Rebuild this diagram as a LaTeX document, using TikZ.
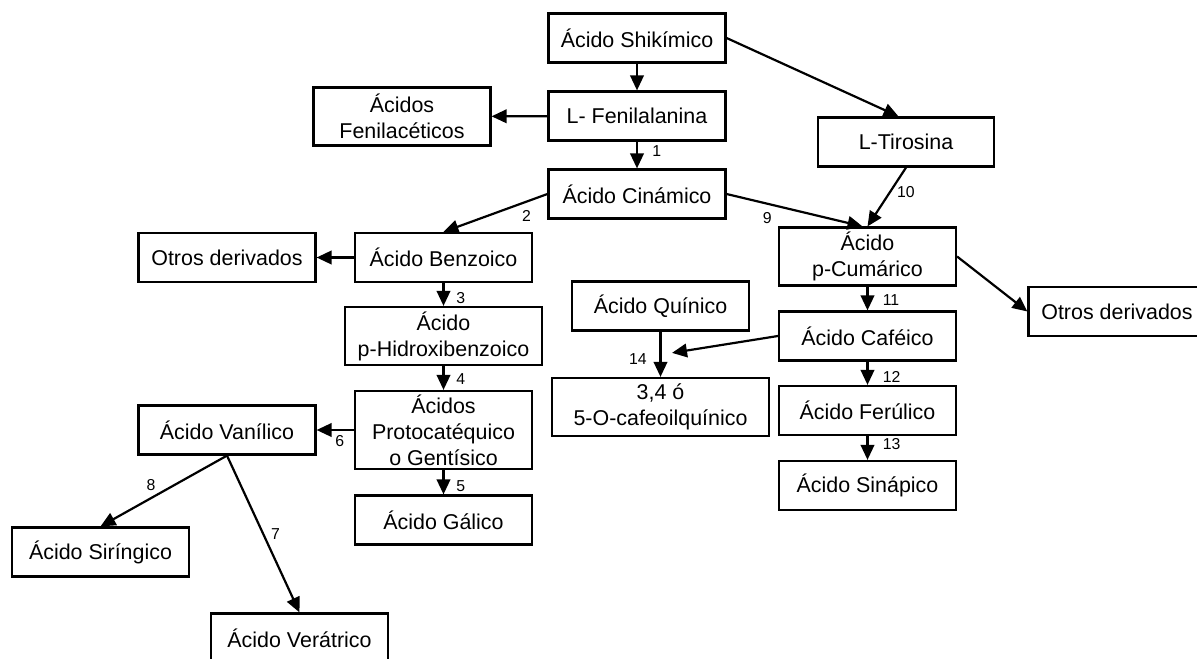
\documentclass[tikz,border=0pt]{standalone}
\usepackage{fontspec}
\setmainfont{Liberation Sans}
\usetikzlibrary{
    positioning,
    arrows.meta,
    calc
}

\begin{document}
\begin{tikzpicture}[x=0.02cm, y=-0.02cm,
    box/.style={draw, line width=1.25pt, minimum width=3.54cm, minimum height=0.98cm,
        align=center, inner sep=2pt, font=\fontsize{12.2}{14.8}\selectfont},
    twoline/.style={minimum height=1.16cm},
    arr/.style={-{Triangle[length=0.3cm, width=0.27cm]}, line width=1.25pt},
    num/.style={font=\fontsize{9}{10}\selectfont, inner sep=1pt}]
            \useasboundingbox (0,0) rectangle (1197,659);
            % boxes
            \node[box] (shik) at (637,38) {Ácido Shikímico};
            \node[box] (fenil) at (637,116) {L- Fenilalanina};
            \node[box, twoline] (fenac) at (402,116.5) {Ácidos\\Fenilacéticos};
            \node[box] (cinam) at (637,194) {Ácido Cinámico};
            \node[box, minimum width=3.52cm] (tiros) at (906,142) {L-Tirosina};
            \node[box, twoline] (cumar) at (867.5,256.5) {Ácido\\p-Cumárico};
            \node[box] (otrosR) at (1117,311.5) {Otros derivados};
            \node[box] (otrosL) at (227,257.5) {Otros derivados};
            \node[box] (benzo) at (443.5,257.5) {Ácido Benzoico};
            \node[box, twoline, minimum width=3.94cm] (phidr) at (443.5,336) {Ácido\\p-Hidroxibenzoico};
            \node[box, minimum height=1.56cm] (proto) at (443.5,430) {Ácidos\\Protocatéquico\\o Gentísico};
            \node[box] (galic) at (443.5,520) {Ácido Gálico};
            \node[box] (vanil) at (227,430) {Ácido Vanílico};
            \node[box] (sirin) at (100.5,552) {Ácido Siríngico};
            \node[box] (verat) at (299.5,638) {Ácido Verátrico};
            \node[box] (quin) at (660.5,306) {Ácido Quínico};
            \node[box, twoline, minimum width=4.34cm] (cqa) at (660.5,407) {3,4 ó\\5-O-cafeoilquínico};
            \node[box] (cafe) at (867.5,336) {Ácido Caféico};
            \node[box] (ferul) at (867.5,410.5) {Ácido Ferúlico};
            \node[box] (sinap) at (867.5,485.5) {Ácido Sinápico};
            % arrows
            \draw[arr] (shik)--(fenil);
            \draw[arr] (fenil)--(fenac);
            \draw[arr] (fenil)--(cinam) node[num, pos=0.35, right=0.25cm] {1};
            \draw[arr] (shik.east)--([xshift=-0.15cm]tiros.north);
            \draw[arr] (cinam.west)--(benzo.north) node[num, pos=0.2, below=0.12cm] {2};
            \draw[arr] (cinam.east)--([xshift=-0.1cm]cumar.north) node[num, pos=0.3, below=0.12cm] {9};
            \draw[arr] (tiros.south)--(cumar.north) node[num, pos=0.41, right=0.08cm] {10};
            \draw[arr] (benzo)--(otrosL);
            \draw[arr] (benzo)--(phidr) node[num, pos=0.64, right=0.2cm] {3};
            \draw[arr] (phidr)--(proto) node[num, pos=0.54, right=0.2cm] {4};
            \draw[arr] (proto)--(galic) node[num, pos=0.67, right=0.2cm] {5};
            \draw[arr] (proto)--(vanil) node[num, pos=0.38, below=0.05cm] {6};
            \draw[arr] (vanil.south)--(verat.north) node[num, midway, right=0.1cm] {7};
            \draw[arr] (vanil.south)--(sirin.north) node[num, pos=0.6, above=0.1cm] {8};
            \draw[arr] (cumar.east)--(otrosR.west);
            \draw[arr] (cumar)--(cafe) node[num, pos=0.55, right=0.25cm] {11};
            \draw[arr] (cafe)--(ferul) node[num, pos=0.65, right=0.25cm] {12};
            \draw[arr] (ferul)--(sinap) node[num, pos=0.35, right=0.25cm] {13};
            \draw[arr] (quin)--(cqa) node[num, pos=0.6, left=0.22cm] {14};
            \coordinate (junc) at ($(quin.south)!0.47!(cqa.north)+(11.5,0)$);
            \draw[arr] (cafe.west)--(junc);
        \end{tikzpicture}
\end{document}
